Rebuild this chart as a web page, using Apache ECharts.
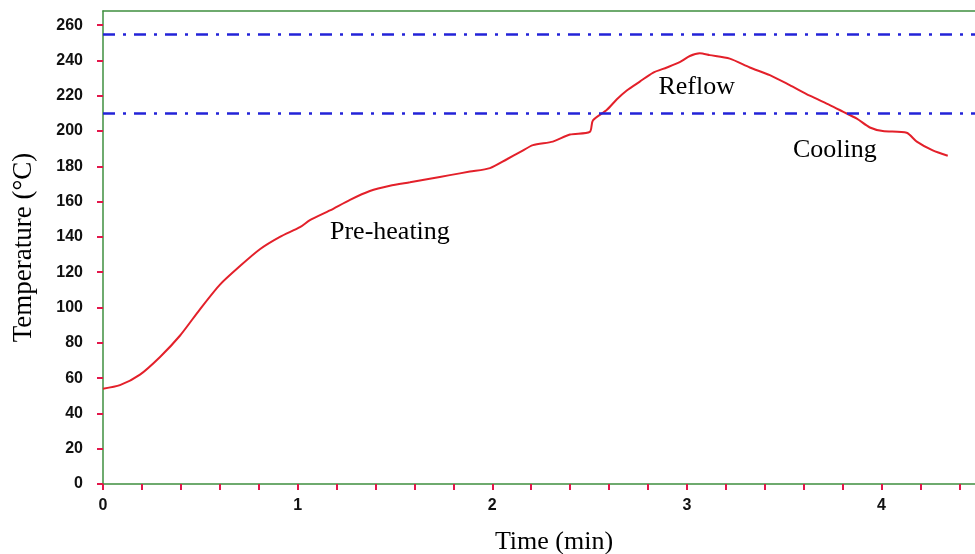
<!DOCTYPE html>
<html>
<head>
<meta charset="utf-8">
<title>Reflow temperature profile</title>
<script src="https://cdn.jsdelivr.net/npm/echarts@6/dist/echarts.min.js"></script>
<style>
  html, body { margin: 0; padding: 0; background: #fff; }
  #chart { width: 975px; height: 554px; }
</style>
</head>
<body>
<div id="chart"></div>
<script>
// Measured oven profile: time (min) and temperature (°C)
const timeMin = [0, 0.087, 0.19, 0.293, 0.395, 0.498, 0.601, 0.704, 0.806, 0.909,
  1.012, 1.063, 1.166, 1.269, 1.371, 1.474, 1.577, 1.679, 1.782, 1.885,
  1.988, 2.075, 2.142, 2.209, 2.311, 2.399, 2.501, 2.517, 2.589, 2.640,
  2.691, 2.758, 2.825, 2.897, 2.963, 3.015, 3.066, 3.117, 3.220, 3.323,
  3.426, 3.528, 3.631, 3.734, 3.801, 3.873, 3.940, 4.006, 4.129, 4.181,
  4.263, 4.340];
const tempC = [54, 56, 62, 72, 84, 99, 113, 123.5, 133, 140,
  145.5, 149.5, 155, 161, 166, 169, 171, 173, 175, 177,
  179, 184, 188, 192, 194, 198, 199.5, 206, 212, 218,
  223, 228, 233, 236, 239, 242.5, 244, 243, 241, 236,
  231.7, 226, 220, 214.7, 211, 207, 202, 200, 199, 194,
  189, 186];

// Reflow window limits (°C)
const limitLines = [255, 210];

// Phase annotations
const phaseNames = ['Pre-heating', 'Reflow', 'Cooling'];
const phaseTime = [1.474, 3.05, 3.76];
const phaseTemp = [142.8, 225, 189];

// Axis ticks
const yTicks = [0, 20, 40, 60, 80, 100, 120, 140, 160, 180, 200, 220, 240, 260];
const xLabelTicks = [0, 1, 2, 3, 4];
const xMinorTicks = [0, 0.2, 0.4, 0.6, 0.8, 1, 1.2, 1.4, 1.6, 1.8, 2, 2.2, 2.4,
  2.6, 2.8, 3, 3.2, 3.4, 3.6, 3.8, 4, 4.2, 4.4];

const serif = '"Liberation Serif", "DejaVu Serif", serif';
const sans = '"Liberation Sans", Arial, sans-serif';
const tickRed = '#e3174a';
const frameGreen = '#3f8f3f';

const chart = echarts.init(document.getElementById('chart'), null, { renderer: 'canvas' });

chart.setOption({
  animation: false,
  backgroundColor: '#ffffff',
  grid: {
    left: 103, top: 11, width: 872, height: 473,
    outerBoundsMode: 'none',
    show: false
  },
  xAxis: [{
    type: 'value', min: 0, max: 4.48,
    name: 'Time (min)', nameLocation: 'middle', nameGap: 45,
    nameTextStyle: { fontFamily: serif, fontSize: 26, color: '#000', padding: [0, 0, 0, 30] },
    axisLine: { show: true, onZero: false, lineStyle: { color: frameGreen, width: 1.5 } },
    axisTick: { show: true, customValues: xMinorTicks, length: 6, lineStyle: { color: tickRed, width: 2 } },
    axisLabel: { customValues: xLabelTicks, margin: 14, fontFamily: sans, fontSize: 16, color: '#111',
      fontWeight: 'bold' },
    splitLine: { show: false }
  }, {
    // top frame line of the plot
    type: 'value', min: 0, max: 4.48, position: 'top',
    axisLine: { show: true, onZero: false, lineStyle: { color: frameGreen, width: 1.5 } },
    axisTick: { show: false }, axisLabel: { show: false }, splitLine: { show: false }
  }],
  yAxis: {
    type: 'value', min: 0, max: 268,
    name: 'Temperature (°C)', nameLocation: 'middle', nameGap: 66,
    nameTextStyle: { fontFamily: serif, fontSize: 27, color: '#000' },
    axisLine: { show: true, lineStyle: { color: frameGreen, width: 1.5 } },
    axisTick: { show: true, customValues: yTicks, length: 6, lineStyle: { color: tickRed, width: 2 } },
    axisLabel: { customValues: yTicks, margin: 20, fontFamily: sans, fontSize: 16, color: '#111',
      fontWeight: 'bold' },
    splitLine: { show: false }
  },
  series: [{
    type: 'line',
    data: timeMin.map((t, i) => [t, tempC[i]]),
    showSymbol: false,
    smooth: 0.25,
    lineStyle: { color: '#e3202a', width: 2 },
    markLine: {
      silent: true,
      symbol: ['none', 'none'],
      label: { show: false },
      lineStyle: { color: '#2323d8', width: 2.5, type: [12, 8, 3, 8] },
      data: limitLines.map(v => ({ yAxis: v }))
    },
    markPoint: {
      silent: true,
      symbol: 'circle',
      symbolSize: 0,
      label: {
        show: true, position: 'inside', color: '#000',
        fontFamily: serif, fontSize: 26,
        formatter: p => p.name
      },
      data: phaseNames.map((n, i) => ({ name: n, coord: [phaseTime[i], phaseTemp[i]] }))
    }
  }]
});
</script>
</body>
</html>
